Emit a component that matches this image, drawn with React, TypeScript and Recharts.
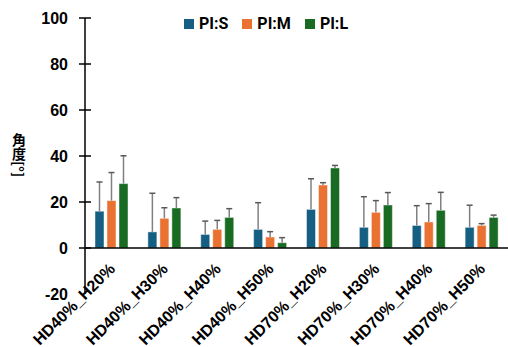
import React from 'react';
import { BarChart, Bar, XAxis, YAxis, ReferenceLine } from 'recharts';

const categories = ['HD40%_H20%', 'HD40%_H30%', 'HD40%_H40%', 'HD40%_H50%', 'HD70%_H20%', 'HD70%_H30%', 'HD70%_H40%', 'HD70%_H50%'];
const piS = [16.0, 7.0, 5.9, 8.1, 16.8, 9.0, 9.8, 9.0];
const piSErr = [12.7, 16.8, 5.8, 11.6, 13.3, 13.3, 8.6, 9.6];
const piM = [20.6, 12.9, 8.1, 4.8, 27.4, 15.5, 11.3, 9.8];
const piMErr = [12.2, 4.6, 3.9, 2.3, 1.0, 5.1, 8.0, 0.8];
const piL = [28.0, 17.4, 13.3, 2.3, 34.8, 18.7, 16.4, 13.3];
const piLErr = [12.1, 4.5, 3.8, 2.2, 1.1, 5.4, 7.8, 1.0];
const yTicks = [-20, 0, 20, 40, 60, 80, 100];

const series = [
  { key: 'S', name: 'PI:S', color: '#156082' },
  { key: 'M', name: 'PI:M', color: '#E97132' },
  { key: 'L', name: 'PI:L', color: '#196B24' },
];

const data = categories.map((name, i) => ({
  name,
  S: piS[i], S_err: piSErr[i],
  M: piM[i], M_err: piMErr[i],
  L: piL[i], L_err: piLErr[i],
}));

const FONT = '"Liberation Sans", Arial, sans-serif';

// bar with an upper-only error whisker, scaled from the bar's own geometry
function barWithErr(key: string, color: string) {
  return (props: any) => {
    const { x, y, width, height, payload } = props;
    const v = payload[key];
    const err = payload[key + '_err'];
    const ppu = v ? height / v : 0;
    const cx = x + width / 2;
    const top = y - err * ppu;
    return (
      <g>
        <rect x={x} y={y} width={width} height={height} fill={color} stroke="#ffffff" strokeOpacity={0.45} strokeWidth={1} />
        <line x1={cx} x2={cx} y1={y} y2={top} stroke="#808080" strokeWidth={1.5} />
        <line x1={cx - 3} x2={cx + 3} y1={top} y2={top} stroke="#595959" strokeWidth={1.5} />
      </g>
    );
  };
}

function YTick({ x, y, payload }: any) {
  return (
    <g>
      {payload.value !== -20 && <line x1={x - 6} x2={x + 6} y1={y} y2={y} stroke="#000" strokeWidth={1.5} />}
      <text x={x - 17} y={y} dy={5.5} textAnchor="end" fontFamily={FONT} fontWeight="bold" fontSize={16} fill="#000">
        {payload.value}
      </text>
    </g>
  );
}

function XTick({ x, y, payload }: any) {
  const tx = x + 4.5;
  const ty = y - 24;
  return (
    <text x={tx} y={ty} textAnchor="end" transform={`rotate(-45, ${tx}, ${ty})`} fontFamily={FONT} fontWeight="bold" fontSize={16} fill="#000">
      {payload.value}
    </text>
  );
}

function YLabel() {
  return (
    <text x={19} y={133} style={{ writingMode: 'vertical-rl' }} fontFamily='"Noto Sans CJK JP", sans-serif' fontWeight="bold" fontSize={14} fill="#000">
      角度[°]
    </text>
  );
}

export default function App() {
  return (
    <div style={{ position: 'absolute', left: 0, top: 0, width: 508, height: 347, background: '#fff' }}>
      <BarChart width={508} height={347} data={data} margin={{ top: 18, right: 0, bottom: 0, left: 0 }} barSize={9} barGap={3}>
        <XAxis dataKey="name" height={53} axisLine={false} tickLine={false} tickSize={0} tickMargin={0} interval={0} tick={<XTick />} />
        <YAxis width={85} domain={[-20, 100]} ticks={yTicks} axisLine={{ stroke: '#000', strokeWidth: 1.5 }} tickLine={false} tickSize={0} tickMargin={0} tick={<YTick />} />
        <ReferenceLine y={0} stroke="#000" strokeWidth={1.5} />
        {series.map((s) => (
          <Bar key={s.key} dataKey={s.key} name={s.name} fill={s.color} isAnimationActive={false} shape={barWithErr(s.key, s.color)} />
        ))}
        <YLabel />
      </BarChart>
      <div style={{ position: 'absolute', left: 184, top: 14, display: 'flex', alignItems: 'center', fontFamily: 'Roboto, sans-serif', fontWeight: 'bold', fontSize: 16, lineHeight: '20px', color: '#000' }}>
        {series.map((s) => (
          <div key={s.key} style={{ display: 'flex', alignItems: 'center', marginRight: 14 }}>
            <span style={{ width: 10, height: 10, background: s.color, display: 'inline-block', marginRight: 5 }} />
            <span>{s.name}</span>
          </div>
        ))}
      </div>
    </div>
  );
}
